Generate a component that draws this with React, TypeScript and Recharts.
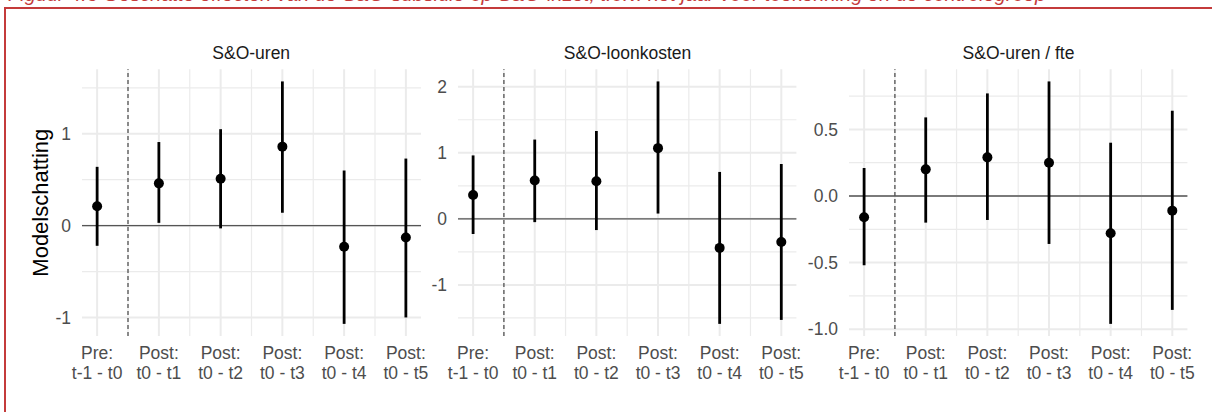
import React from "react";
import { ScatterChart, Scatter, ErrorBar, XAxis, YAxis, CartesianGrid, ReferenceLine } from "recharts";

// periods on the x axis (two-line labels)
const categories = [
  "Pre:\nt-1 - t0",
  "Post:\nt0 - t1",
  "Post:\nt0 - t2",
  "Post:\nt0 - t3",
  "Post:\nt0 - t4",
  "Post:\nt0 - t5",
];

// S&O-uren
const urenEst = [0.21, 0.46, 0.51, 0.86, -0.23, -0.13];
const urenLo = [-0.22, 0.03, -0.03, 0.14, -1.07, -1.0];
const urenHi = [0.64, 0.91, 1.05, 1.57, 0.6, 0.73];

// S&O-loonkosten
const loonEst = [0.36, 0.58, 0.57, 1.07, -0.44, -0.35];
const loonLo = [-0.23, -0.05, -0.17, 0.08, -1.59, -1.53];
const loonHi = [0.96, 1.2, 1.33, 2.08, 0.71, 0.83];

// S&O-uren / fte
const fteEst = [-0.16, 0.2, 0.29, 0.25, -0.28, -0.11];
const fteLo = [-0.52, -0.2, -0.18, -0.36, -0.96, -0.855];
const fteHi = [0.21, 0.59, 0.77, 0.86, 0.4, 0.64];

const xMajor = [1, 2, 3, 4, 5, 6];
const xMinor = [1.5, 2.5, 3.5, 4.5, 5.5];
const divider = 1.5;

const FONT = "'Liberation Sans', Arial, sans-serif";
const AXIS_W = 60;
const RIGHT_PAD = 24;
const PLOT_TOP = 69.3;
const PLOT_BOTTOM = 336;
const GRID = "#ebebeb";

const renderXTick = (props: any) => {
  const { x, y, payload } = props;
  const label = categories[Math.round(payload.value) - 1] || "";
  const [a, b] = label.split("\n");
  return (
    <g>
      <text x={x} y={y + 23.3} textAnchor="middle" fill="#4d4d4d" fontSize={17.5}>
        {a}
      </text>
      <text x={x} y={y + 42.7} textAnchor="middle" fill="#4d4d4d" fontSize={17.5}>
        {b}
      </text>
    </g>
  );
};

const renderDot = (props: any) => <circle cx={props.cx} cy={props.cy} r={5} fill="#000" />;

interface PanelProps {
  left: number;
  right: number;
  est: number[];
  lo: number[];
  hi: number[];
  yMajor: number[];
  yMinor: number[];
  digits: number;
}

function Panel({ left, right, est, lo, hi, yMajor, yMinor, digits }: PanelProps) {
  const data = est.map((v, i) => ({ x: i + 1, est: v, err: [v - lo[i], hi[i] - v] }));
  const min = Math.min(...lo);
  const max = Math.max(...hi);
  const pad = (max - min) * 0.05;
  const plotW = right - left;

  return (
    <div style={{ position: "absolute", left: left - AXIS_W, top: 0 }}>
      <ScatterChart
        width={AXIS_W + plotW + RIGHT_PAD}
        height={412}
        margin={{ top: PLOT_TOP, right: RIGHT_PAD, bottom: 0, left: 0 }}
      >
        <CartesianGrid stroke={GRID} strokeWidth={1.2} horizontalValues={yMinor} verticalValues={xMinor} />
        <CartesianGrid stroke={GRID} strokeWidth={2} horizontalValues={yMajor} verticalValues={xMajor} />
        <XAxis
          type="number"
          dataKey="x"
          domain={[0.755, 6.245]}
          allowDataOverflow
          ticks={xMajor}
          interval={0}
          tick={renderXTick}
          tickSize={0}
          tickMargin={0}
          axisLine={false}
          tickLine={false}
          height={412 - PLOT_BOTTOM}
        />
        <YAxis
          type="number"
          dataKey="est"
          domain={[min - pad, max + pad]}
          allowDataOverflow
          ticks={yMajor}
          interval={0}
          tickFormatter={(v: number) => v.toFixed(digits)}
          tick={{ fill: "#4d4d4d", fontSize: 17.5 }}
          tickSize={0}
          tickMargin={11}
          axisLine={false}
          tickLine={false}
          width={AXIS_W}
        />
        <ReferenceLine x={divider} stroke="#333" strokeWidth={1.1} strokeDasharray="4 3" />
        <ReferenceLine y={0} stroke="#555" strokeWidth={1.3} />
        <Scatter data={data} dataKey="est" fill="#000" shape={renderDot} isAnimationActive={false}>
          <ErrorBar dataKey="err" direction="y" width={0} stroke="#000" strokeWidth={2.8} isAnimationActive={false} />
        </Scatter>
      </ScatterChart>
    </div>
  );
}

export default function App() {
  return (
    <div
      style={{
        position: "absolute",
        left: 0,
        top: 0,
        width: 1212,
        height: 412,
        overflow: "hidden",
        background: "#fff",
        fontFamily: FONT,
      }}
    >
      <div
        style={{
          position: "absolute",
          left: 4,
          top: 7,
          width: 1230,
          height: 420,
          borderTop: "2px solid #c43b3b",
          borderLeft: "2px solid #c43b3b",
        }}
      />
      <Panel left={81.7} right={420.7} est={urenEst} lo={urenLo} hi={urenHi} yMajor={[-1, 0, 1]} yMinor={[-0.5, 0.5, 1.5]} digits={0} />
      <Panel left={458.3} right={796.7} est={loonEst} lo={loonLo} hi={loonHi} yMajor={[-1, 0, 1, 2]} yMinor={[-1.5, -0.5, 0.5, 1.5]} digits={0} />
      <Panel left={849.3} right={1187.7} est={fteEst} lo={fteLo} hi={fteHi} yMajor={[-1, -0.5, 0, 0.5]} yMinor={[-0.75, -0.25, 0.25, 0.75]} digits={1} />
      <svg width={1212} height={412} style={{ position: "absolute", left: 0, top: 0, pointerEvents: "none" }}>
        <text x={8} y={1} fill="#c43b3b" fontStyle="italic" fontSize={20}>
          Figuur 4.3 Geschatte effecten van de S&amp;O-subsidie op S&amp;O-inzet, t.o.v. het jaar voor toekenning en de controlegroep
        </text>
        <text x={251.2} y={59.3} textAnchor="middle" fill="#1a1a1a" fontSize={17.5}>
          S&amp;O-uren
        </text>
        <text x={627.5} y={59.3} textAnchor="middle" fill="#1a1a1a" fontSize={17.5}>
          S&amp;O-loonkosten
        </text>
        <text x={1018.5} y={59.3} textAnchor="middle" fill="#1a1a1a" fontSize={17.5}>
          S&amp;O-uren / fte
        </text>
        <text transform="translate(48,202.7) rotate(-90)" textAnchor="middle" fill="#000" fontSize={22}>
          Modelschatting
        </text>
      </svg>
    </div>
  );
}
